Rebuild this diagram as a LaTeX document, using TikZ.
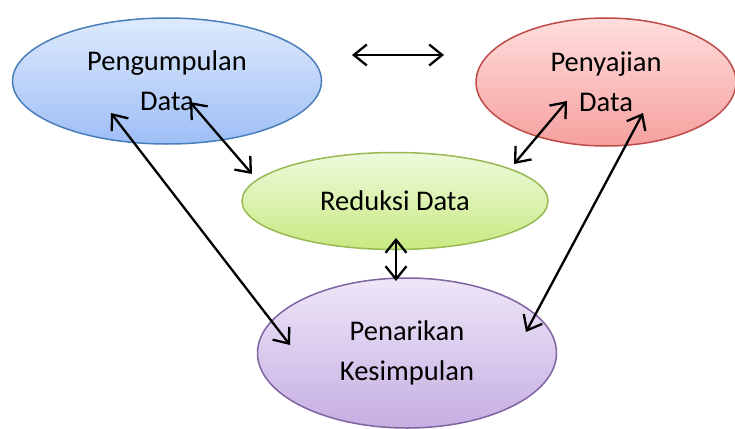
\documentclass[tikz,border=0pt]{standalone}
\usepackage{fontspec}
\setmainfont{Carlito}
\usetikzlibrary{shapes.geometric,arrows.meta}

\definecolor{blueline}{RGB}{74,126,187}
\definecolor{redline}{RGB}{190,75,72}
\definecolor{greenline}{RGB}{152,185,84}
\definecolor{purpleline}{RGB}{128,100,162}

\begin{document}
\begin{tikzpicture}
          [x=1pt,y=-1pt,
           every node/.style={shape=ellipse,draw,line width=1.5pt,inner sep=0pt,align=center,
                              font=\fontsize{28.5}{40}\selectfont},
           link/.style={{Straight Barb[length=13pt,width=21pt]}-{Straight Barb[length=13pt,width=21pt]},line width=2.3pt}]

          \useasboundingbox (0,0) rectangle (735,428);

          \node[draw=blueline,top color={rgb,255:red,222;green,234;blue,252},bottom color={rgb,255:red,158;green,190;blue,246},
                minimum width=309pt,minimum height=126pt] (pd) at (167,81) {Pengumpulan\\Data};
          \node[draw=redline,top color={rgb,255:red,255;green,222;blue,222},bottom color={rgb,255:red,245;green,160;blue,158},
                minimum width=260pt,minimum height=128pt] (sd) at (606,82) {Penyajian\\Data};
          \node[draw=greenline,top color={rgb,255:red,238;green,250;blue,220},bottom color={rgb,255:red,200;green,234;blue,130},
                minimum width=306pt,minimum height=97pt] (rd) at (395,201) {Reduksi Data};
          \node[draw=purpleline,top color={rgb,255:red,238;green,230;blue,248},bottom color={rgb,255:red,198;green,175;blue,226},
                minimum width=299pt,minimum height=150pt] (pk) at (407,353) {Penarikan\\Kesimpulan};

          \coordinate (top1) at (352,55);
          \coordinate (top2) at (444,55);
          \coordinate (pd1) at (190,102);
          \coordinate (pd2) at (111,113);
          \coordinate (rd1) at (252,174);
          \coordinate (rd2) at (514,164);
          \coordinate (rd3) at (396,238);
          \coordinate (sd1) at (567,101);
          \coordinate (sd2) at (643,113);
          \coordinate (pk1) at (290,345);
          \coordinate (pk2) at (526,332);
          \coordinate (pk3) at (396,281);

          \draw[link] (top1) -- (top2);
          \draw[link] (pd1) -- (rd1);
          \draw[link] (pd2) -- (pk1);
          \draw[link] (sd1) -- (rd2);
          \draw[link] (sd2) -- (pk2);
          \draw[link] (rd3) -- (pk3);
        \end{tikzpicture}
\end{document}
